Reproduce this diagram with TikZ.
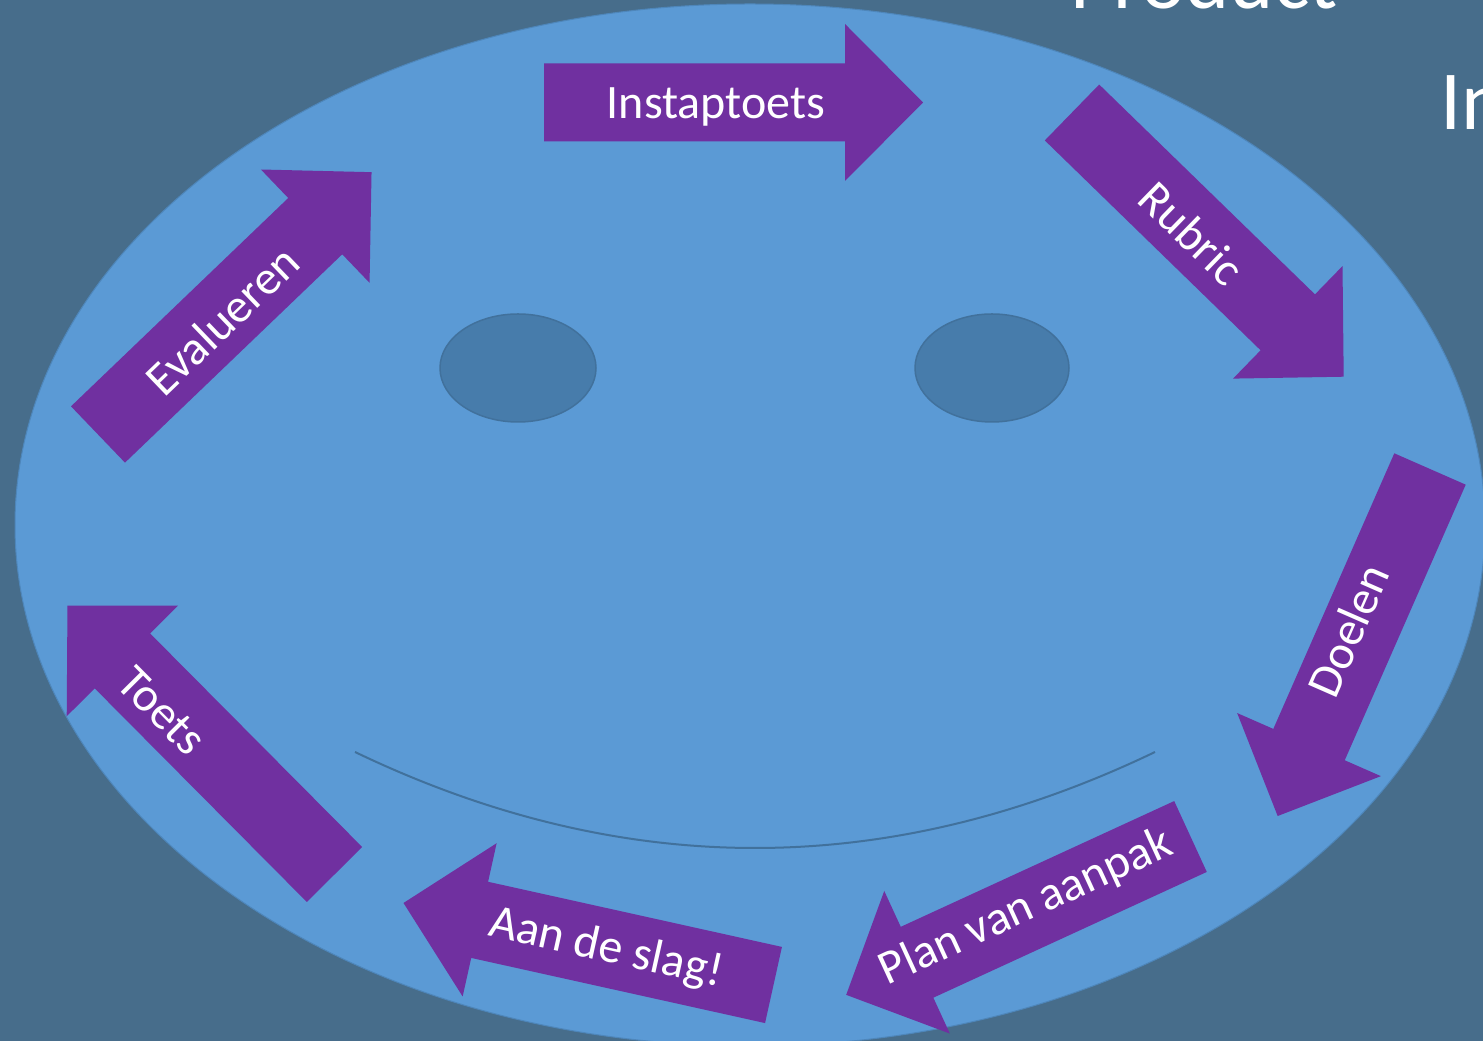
\documentclass[tikz,border=0pt]{standalone}
\usepackage{fontspec}
\setmainfont{Carlito}
\usetikzlibrary{shapes.geometric}
\definecolor{bgcol}{HTML}{476D8B}
\definecolor{facecol}{HTML}{5B9AD5}
\definecolor{faceline}{HTML}{4E86BA}
\definecolor{eyecol}{HTML}{477CAB}
\definecolor{eyeline}{HTML}{41719C}
\definecolor{arrowcol}{HTML}{7030A0}
\tikzset{
  arrowfill/.style={fill=arrowcol},
  lbl/.style={text=white, inner sep=0pt, font=\fontsize{48}{58}\selectfont},
  bigtext/.style={text=white, inner sep=0pt, anchor=base west, font=\fontsize{84}{100}\selectfont},
  eye/.style={ellipse, fill=eyecol, draw=eyeline, line width=1.5pt, inner sep=0pt, minimum height=108},
}
\newcommand{\bigarrow}[3]{%
  \begin{scope}[shift={#1}, rotate=#2]
    \fill[arrowfill] (0,39) -- (301,39) -- (301,78.5) -- (379,0) -- (301,-78.5) -- (301,-39) -- (0,-39) -- cycle;
    \coordinate (#3) at (0,0);
  \end{scope}}
\begin{document}
\begin{tikzpicture}[x=1pt,y=1pt]
  \clip (0,0) rectangle (1483,1041);
  \fill[bgcol] (0,0) rectangle (1483,1041);
  % face
  \draw[fill=facecol, draw=faceline, line width=1pt] (750,516) ellipse [x radius=735, y radius=521];
  % eyes
  \node[eye, minimum width=156] (lefteye) at (518,673) {};
  \node[eye, minimum width=154] (righteye) at (992,673) {};
  % smile
  \coordinate (smileL) at (355,289);
  \coordinate (smileR) at (1155,289);
  \draw[eyeline, line width=2pt] (smileL) .. controls (621.7,161) and (888.3,161) .. (smileR);
  % arrows
  \bigarrow{(544,938.5)}{0}{a1}
  \bigarrow{(1072,928.5)}{-44.2}{a2}
  \bigarrow{(1430,572)}{246.3}{a3}
  \bigarrow{(1190.5,204.5)}{204.7}{a4}
  \bigarrow{(773.5,56)}{167.5}{a5}
  \bigarrow{(334.5,166.5)}{134.8}{a6}
  \bigarrow{(98,606.5)}{43.8}{a7}
  % labels
  \node[lbl] (t1) at (716,934) {Instaptoets};
  \node[lbl, rotate=-44.2] (t2) at (1192,808) {Rubric};
  \node[lbl, rotate=66.3] (t3) at (1348,411) {Doelen};
  \node[lbl, rotate=24.7] (t4) at (1026,133) {Plan van aanpak};
  \node[lbl, rotate=-12.5] (t5) at (606,92) {Aan de slag!};
  \node[lbl, rotate=-45.2] (t6) at (162,330) {Toets};
  \node[lbl, rotate=43.8] (t7) at (222,721) {Evalueren};
  % cut-off texts
  \node[bigtext] (prod) at (1070,1032) {Product};
  \node[bigtext] (intext) at (1440,911) {In};
\end{tikzpicture}
\end{document}
